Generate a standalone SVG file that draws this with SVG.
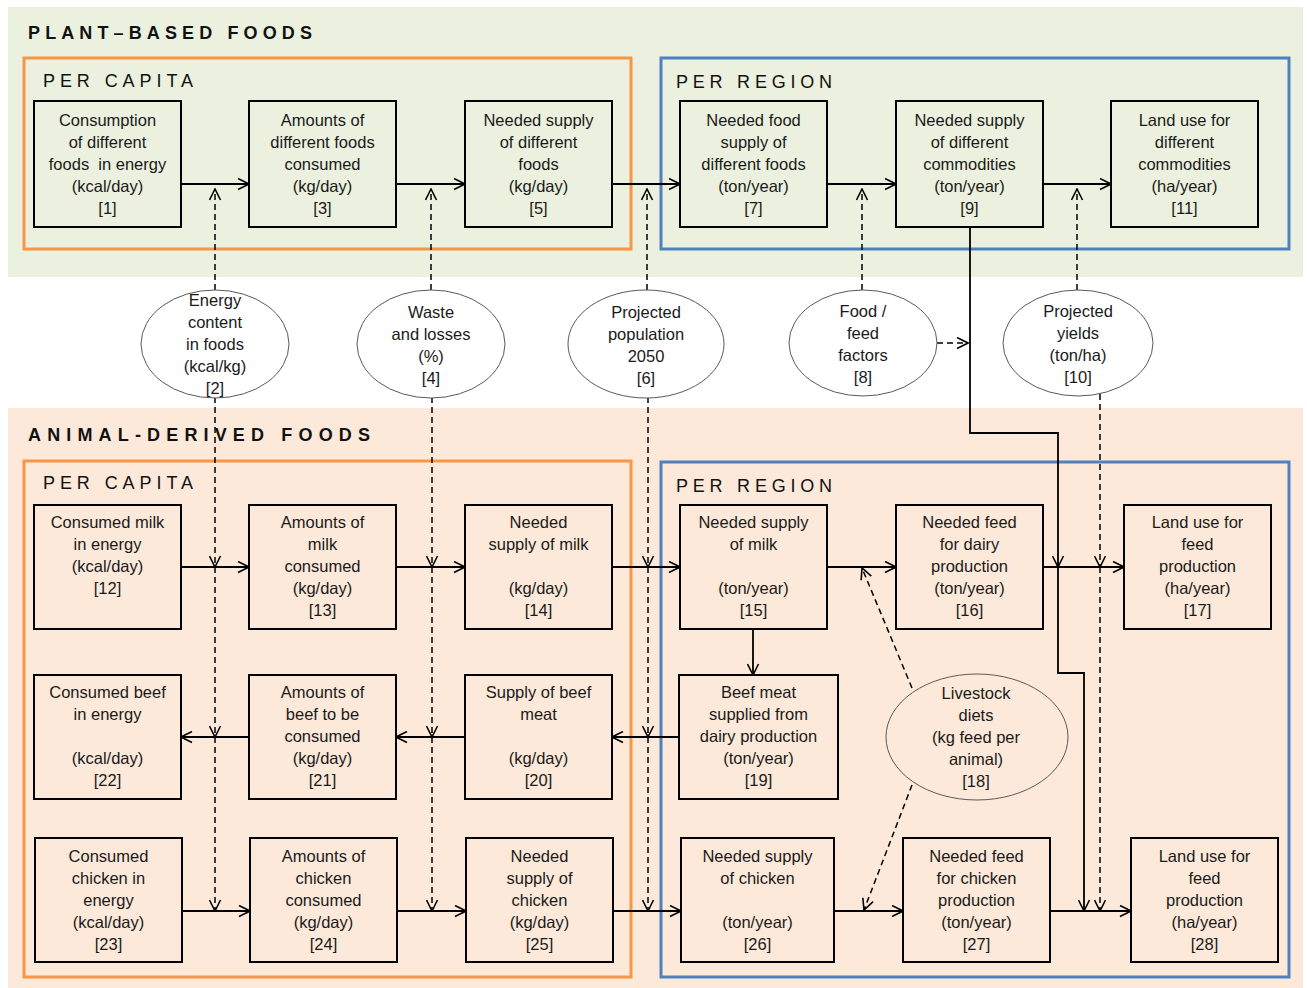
<svg xmlns="http://www.w3.org/2000/svg" width="1307" height="988" viewBox="0 0 1307 988">
<style>
.t{font-family:"Liberation Sans",Arial,sans-serif;font-size:16.5px;fill:#1a1a1a;text-anchor:middle}
.h{font-family:"Liberation Sans",Arial,sans-serif;font-size:18px;font-weight:bold;fill:#111}
.s{font-family:"Liberation Sans",Arial,sans-serif;font-size:18px;fill:#111}
.n{fill:none;stroke:#000;stroke-width:2}
.e{stroke:#595959;stroke-width:1}
.c{fill:none;stroke:#000;stroke-width:1.8}
.d{fill:none;stroke:#000;stroke-width:1.5;stroke-dasharray:6 4}
</style>
<defs>
<marker id="ah" viewBox="0 0 13 13" refX="12" refY="6.5" markerWidth="13" markerHeight="13" markerUnits="userSpaceOnUse" orient="auto">
<path d="M1,1 L12,6.5 L1,12" fill="none" stroke="#000" stroke-width="1.6"/>
</marker>
</defs>
<rect x="0" y="0" width="1307" height="988" fill="#fff"/>
<g id="panels">
<rect x="8" y="7" width="1295" height="270" fill="#EBF1DE"/>
<rect x="8" y="408" width="1295" height="580" fill="#FDE9D9"/>
<text class="h" x="28" y="39" textLength="284" lengthAdjust="spacing">PLANT–BASED FOODS</text>
<text class="h" x="28" y="441" textLength="342" lengthAdjust="spacing">ANIMAL-DERIVED  FOODS</text>
<rect x="24" y="58" width="607" height="191" fill="none" stroke="#F79646" stroke-width="3"/>
<rect x="661" y="58" width="628" height="191" fill="none" stroke="#4F81BD" stroke-width="3"/>
<rect x="24" y="461" width="607" height="516" fill="none" stroke="#F79646" stroke-width="3"/>
<rect x="661" y="462" width="628" height="515" fill="none" stroke="#4F81BD" stroke-width="3"/>
<text class="s" x="43" y="87" textLength="150" lengthAdjust="spacing">PER CAPITA</text>
<text class="s" x="676" y="88" textLength="156" lengthAdjust="spacing">PER REGION</text>
<text class="s" x="43" y="489" textLength="150" lengthAdjust="spacing">PER CAPITA</text>
<text class="s" x="676" y="492" textLength="156" lengthAdjust="spacing">PER REGION</text>
</g>
<g id="connectors">
<line class="c" x1="181" y1="184" x2="249" y2="184" marker-end="url(#ah)"/>
<line class="c" x1="396" y1="184" x2="465" y2="184" marker-end="url(#ah)"/>
<line class="c" x1="612" y1="184" x2="680" y2="184" marker-end="url(#ah)"/>
<line class="c" x1="827" y1="184" x2="896" y2="184" marker-end="url(#ah)"/>
<line class="c" x1="1043" y1="184" x2="1111" y2="184" marker-end="url(#ah)"/>
<line class="d" x1="215" y1="290" x2="215" y2="189" marker-end="url(#ah)"/>
<line class="d" x1="431" y1="290" x2="431" y2="189" marker-end="url(#ah)"/>
<line class="d" x1="647" y1="290" x2="647" y2="189" marker-end="url(#ah)"/>
<line class="d" x1="862" y1="290" x2="862" y2="189" marker-end="url(#ah)"/>
<line class="d" x1="1077" y1="290" x2="1077" y2="189" marker-end="url(#ah)"/>
<line class="d" x1="937" y1="343" x2="968" y2="343" marker-end="url(#ah)"/>
<polyline class="c" points="970,227 970,433 1058,433 1058,567" marker-end="url(#ah)"/>
<polyline class="c" points="1058,567 1058,673 1084,673 1084,911" marker-end="url(#ah)"/>
<line class="c" x1="181" y1="567" x2="249" y2="567" marker-end="url(#ah)"/>
<line class="c" x1="396" y1="567" x2="465" y2="567" marker-end="url(#ah)"/>
<line class="c" x1="612" y1="567" x2="680" y2="567" marker-end="url(#ah)"/>
<line class="c" x1="827" y1="567" x2="896" y2="567" marker-end="url(#ah)"/>
<line class="c" x1="1043" y1="567" x2="1124" y2="567" marker-end="url(#ah)"/>
<line class="c" x1="753" y1="629" x2="753" y2="675" marker-end="url(#ah)"/>
<line class="c" x1="679" y1="737" x2="612" y2="737" marker-end="url(#ah)"/>
<line class="c" x1="465" y1="737" x2="396" y2="737" marker-end="url(#ah)"/>
<line class="c" x1="249" y1="737" x2="181" y2="737" marker-end="url(#ah)"/>
<line class="c" x1="182" y1="911" x2="250" y2="911" marker-end="url(#ah)"/>
<line class="c" x1="397" y1="911" x2="466" y2="911" marker-end="url(#ah)"/>
<line class="c" x1="613" y1="911" x2="681" y2="911" marker-end="url(#ah)"/>
<line class="c" x1="834" y1="911" x2="903" y2="911" marker-end="url(#ah)"/>
<line class="c" x1="1050" y1="911" x2="1131" y2="911" marker-end="url(#ah)"/>
<line class="d" x1="215" y1="397" x2="215" y2="567" marker-end="url(#ah)"/>
<line class="d" x1="215" y1="567" x2="215" y2="737" marker-end="url(#ah)"/>
<line class="d" x1="215" y1="737" x2="215" y2="911" marker-end="url(#ah)"/>
<line class="d" x1="432" y1="397" x2="432" y2="567" marker-end="url(#ah)"/>
<line class="d" x1="432" y1="567" x2="432" y2="737" marker-end="url(#ah)"/>
<line class="d" x1="432" y1="737" x2="432" y2="911" marker-end="url(#ah)"/>
<line class="d" x1="648" y1="397" x2="648" y2="567" marker-end="url(#ah)"/>
<line class="d" x1="648" y1="567" x2="648" y2="737" marker-end="url(#ah)"/>
<line class="d" x1="648" y1="737" x2="648" y2="911" marker-end="url(#ah)"/>
<line class="d" x1="1100" y1="394" x2="1100" y2="567" marker-end="url(#ah)"/>
<line class="d" x1="1100" y1="567" x2="1100" y2="911" marker-end="url(#ah)"/>
<line class="d" x1="912" y1="688" x2="862" y2="568" marker-end="url(#ah)"/>
<line class="d" x1="912" y1="785" x2="864" y2="910" marker-end="url(#ah)"/>
</g>
<g id="n1"><rect class="n" x="34" y="101" width="147" height="126"/><text class="t"><tspan x="107.5" y="126">Consumption</tspan><tspan x="107.5" y="148">of different</tspan><tspan x="107.5" y="170" xml:space="preserve">foods  in energy</tspan><tspan x="107.5" y="192">(kcal/day)</tspan><tspan x="107.5" y="214">[1]</tspan></text></g>
<g id="n3"><rect class="n" x="249" y="101" width="147" height="126"/><text class="t"><tspan x="322.5" y="126">Amounts of</tspan><tspan x="322.5" y="148">different foods</tspan><tspan x="322.5" y="170">consumed</tspan><tspan x="322.5" y="192">(kg/day)</tspan><tspan x="322.5" y="214">[3]</tspan></text></g>
<g id="n5"><rect class="n" x="465" y="101" width="147" height="126"/><text class="t"><tspan x="538.5" y="126">Needed supply</tspan><tspan x="538.5" y="148">of different</tspan><tspan x="538.5" y="170">foods</tspan><tspan x="538.5" y="192">(kg/day)</tspan><tspan x="538.5" y="214">[5]</tspan></text></g>
<g id="n7"><rect class="n" x="680" y="101" width="147" height="126"/><text class="t"><tspan x="753.5" y="126">Needed food</tspan><tspan x="753.5" y="148">supply of</tspan><tspan x="753.5" y="170">different foods</tspan><tspan x="753.5" y="192">(ton/year)</tspan><tspan x="753.5" y="214">[7]</tspan></text></g>
<g id="n9"><rect class="n" x="896" y="101" width="147" height="126"/><text class="t"><tspan x="969.5" y="126">Needed supply</tspan><tspan x="969.5" y="148">of different</tspan><tspan x="969.5" y="170">commodities</tspan><tspan x="969.5" y="192">(ton/year)</tspan><tspan x="969.5" y="214">[9]</tspan></text></g>
<g id="n11"><rect class="n" x="1111" y="101" width="147" height="126"/><text class="t"><tspan x="1184.5" y="126">Land use for</tspan><tspan x="1184.5" y="148">different</tspan><tspan x="1184.5" y="170">commodities</tspan><tspan x="1184.5" y="192">(ha/year)</tspan><tspan x="1184.5" y="214">[11]</tspan></text></g>
<g id="n2"><ellipse class="e" cx="215" cy="344" rx="74" ry="54" fill="#fff"/><text class="t"><tspan x="215" y="306">Energy</tspan><tspan x="215" y="328">content</tspan><tspan x="215" y="350">in foods</tspan><tspan x="215" y="372">(kcal/kg)</tspan><tspan x="215" y="394">[2]</tspan></text></g>
<g id="n4"><ellipse class="e" cx="431" cy="344" rx="74" ry="54" fill="#fff"/><text class="t"><tspan x="431" y="318">Waste</tspan><tspan x="431" y="340">and losses</tspan><tspan x="431" y="362">(%)</tspan><tspan x="431" y="384">[4]</tspan></text></g>
<g id="n6"><ellipse class="e" cx="646" cy="344" rx="78" ry="54" fill="#fff"/><text class="t"><tspan x="646" y="318">Projected</tspan><tspan x="646" y="340">population</tspan><tspan x="646" y="362">2050</tspan><tspan x="646" y="384">[6]</tspan></text></g>
<g id="n8"><ellipse class="e" cx="863" cy="343" rx="74" ry="53" fill="#fff"/><text class="t"><tspan x="863" y="317">Food /</tspan><tspan x="863" y="339">feed</tspan><tspan x="863" y="361">factors</tspan><tspan x="863" y="383">[8]</tspan></text></g>
<g id="n10"><ellipse class="e" cx="1078" cy="343" rx="75" ry="53" fill="#fff"/><text class="t"><tspan x="1078" y="317">Projected</tspan><tspan x="1078" y="339">yields</tspan><tspan x="1078" y="361">(ton/ha)</tspan><tspan x="1078" y="383">[10]</tspan></text></g>
<g id="n12"><rect class="n" x="34" y="505" width="147" height="124"/><text class="t"><tspan x="107.5" y="528">Consumed milk</tspan><tspan x="107.5" y="550">in energy</tspan><tspan x="107.5" y="572">(kcal/day)</tspan><tspan x="107.5" y="594">[12]</tspan></text></g>
<g id="n13"><rect class="n" x="249" y="505" width="147" height="124"/><text class="t"><tspan x="322.5" y="528">Amounts of</tspan><tspan x="322.5" y="550">milk</tspan><tspan x="322.5" y="572">consumed</tspan><tspan x="322.5" y="594">(kg/day)</tspan><tspan x="322.5" y="616">[13]</tspan></text></g>
<g id="n14"><rect class="n" x="465" y="505" width="147" height="124"/><text class="t"><tspan x="538.5" y="528">Needed</tspan><tspan x="538.5" y="550">supply of milk</tspan><tspan x="538.5" y="594">(kg/day)</tspan><tspan x="538.5" y="616">[14]</tspan></text></g>
<g id="n15"><rect class="n" x="680" y="505" width="147" height="124"/><text class="t"><tspan x="753.5" y="528">Needed supply</tspan><tspan x="753.5" y="550">of milk</tspan><tspan x="753.5" y="594">(ton/year)</tspan><tspan x="753.5" y="616">[15]</tspan></text></g>
<g id="n16"><rect class="n" x="896" y="505" width="147" height="124"/><text class="t"><tspan x="969.5" y="528">Needed feed</tspan><tspan x="969.5" y="550">for dairy</tspan><tspan x="969.5" y="572">production</tspan><tspan x="969.5" y="594">(ton/year)</tspan><tspan x="969.5" y="616">[16]</tspan></text></g>
<g id="n17"><rect class="n" x="1124" y="505" width="147" height="124"/><text class="t"><tspan x="1197.5" y="528">Land use for</tspan><tspan x="1197.5" y="550">feed</tspan><tspan x="1197.5" y="572">production</tspan><tspan x="1197.5" y="594">(ha/year)</tspan><tspan x="1197.5" y="616">[17]</tspan></text></g>
<g id="n22"><rect class="n" x="34" y="675" width="147" height="124"/><text class="t"><tspan x="107.5" y="698">Consumed beef</tspan><tspan x="107.5" y="720">in energy</tspan><tspan x="107.5" y="764">(kcal/day)</tspan><tspan x="107.5" y="786">[22]</tspan></text></g>
<g id="n21"><rect class="n" x="249" y="675" width="147" height="124"/><text class="t"><tspan x="322.5" y="698">Amounts of</tspan><tspan x="322.5" y="720">beef to be</tspan><tspan x="322.5" y="742">consumed</tspan><tspan x="322.5" y="764">(kg/day)</tspan><tspan x="322.5" y="786">[21]</tspan></text></g>
<g id="n20"><rect class="n" x="465" y="675" width="147" height="124"/><text class="t"><tspan x="538.5" y="698">Supply of beef</tspan><tspan x="538.5" y="720">meat</tspan><tspan x="538.5" y="764">(kg/day)</tspan><tspan x="538.5" y="786">[20]</tspan></text></g>
<g id="n19"><rect class="n" x="679" y="675" width="159" height="124"/><text class="t"><tspan x="758.5" y="698">Beef meat</tspan><tspan x="758.5" y="720">supplied from</tspan><tspan x="758.5" y="742">dairy production</tspan><tspan x="758.5" y="764">(ton/year)</tspan><tspan x="758.5" y="786">[19]</tspan></text></g>
<g id="n18"><ellipse class="e" cx="977" cy="737" rx="91" ry="63" fill="#FDE9D9"/><text class="t"><tspan x="976" y="699">Livestock</tspan><tspan x="976" y="721">diets</tspan><tspan x="976" y="743">(kg feed per</tspan><tspan x="976" y="765">animal)</tspan><tspan x="976" y="787">[18]</tspan></text></g>
<g id="n23"><rect class="n" x="35" y="838" width="147" height="124"/><text class="t"><tspan x="108.5" y="862">Consumed</tspan><tspan x="108.5" y="884">chicken in</tspan><tspan x="108.5" y="906">energy</tspan><tspan x="108.5" y="928">(kcal/day)</tspan><tspan x="108.5" y="950">[23]</tspan></text></g>
<g id="n24"><rect class="n" x="250" y="838" width="147" height="124"/><text class="t"><tspan x="323.5" y="862">Amounts of</tspan><tspan x="323.5" y="884">chicken</tspan><tspan x="323.5" y="906">consumed</tspan><tspan x="323.5" y="928">(kg/day)</tspan><tspan x="323.5" y="950">[24]</tspan></text></g>
<g id="n25"><rect class="n" x="466" y="838" width="147" height="124"/><text class="t"><tspan x="539.5" y="862">Needed</tspan><tspan x="539.5" y="884">supply of</tspan><tspan x="539.5" y="906">chicken</tspan><tspan x="539.5" y="928">(kg/day)</tspan><tspan x="539.5" y="950">[25]</tspan></text></g>
<g id="n26"><rect class="n" x="681" y="838" width="153" height="124"/><text class="t"><tspan x="757.5" y="862">Needed supply</tspan><tspan x="757.5" y="884">of chicken</tspan><tspan x="757.5" y="928">(ton/year)</tspan><tspan x="757.5" y="950">[26]</tspan></text></g>
<g id="n27"><rect class="n" x="903" y="838" width="147" height="124"/><text class="t"><tspan x="976.5" y="862">Needed feed</tspan><tspan x="976.5" y="884">for chicken</tspan><tspan x="976.5" y="906">production</tspan><tspan x="976.5" y="928">(ton/year)</tspan><tspan x="976.5" y="950">[27]</tspan></text></g>
<g id="n28"><rect class="n" x="1131" y="838" width="147" height="124"/><text class="t"><tspan x="1204.5" y="862">Land use for</tspan><tspan x="1204.5" y="884">feed</tspan><tspan x="1204.5" y="906">production</tspan><tspan x="1204.5" y="928">(ha/year)</tspan><tspan x="1204.5" y="950">[28]</tspan></text></g>
</svg>
